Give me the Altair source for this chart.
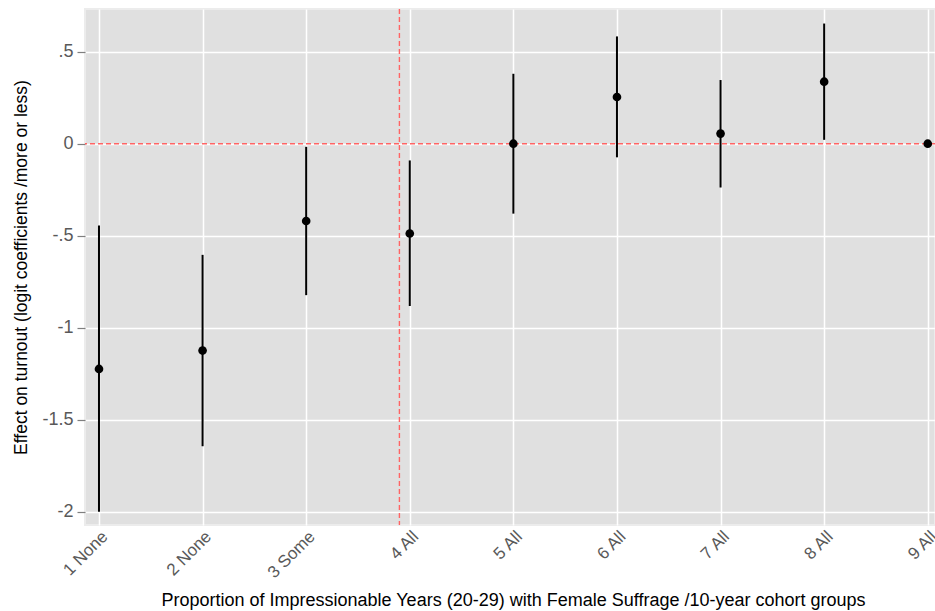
import altair as alt
import pandas as pd

# Data
positions = [1, 2, 3, 4, 5, 6, 7, 8, 9]
labels = ["1 None", "2 None", "3 Some", "4 All", "5 All", "6 All", "7 All", "8 All", "9 All"]
estimates = [-1.224, -1.124, -0.420, -0.488, 0.0, 0.254, 0.055, 0.337, 0.0]
ci_low = [-2.0, -1.644, -0.823, -0.882, -0.380, -0.074, -0.238, 0.021, None]
ci_high = [-0.445, -0.604, -0.017, -0.091, 0.380, 0.583, 0.346, 0.653, None]
ref_x = [3.9]
ref_y = [0.0]

y_ticks = [-2, -1.5, -1, -0.5, 0, 0.5]
y_tick_labels = ["-2", "-1.5", "-1", "-.5", "0", ".5"]

df = pd.DataFrame({"pos": positions, "label": labels, "est": estimates,
                   "lo": ci_low, "hi": ci_high})
df_ci = df.dropna(subset=["lo", "hi"])

label_map = "{" + ",".join(f"'{p}':'{l}'" for p, l in zip(positions, labels)) + "}"
ylab_map = "{" + ",".join(f"'{v}':'{l}'" for v, l in zip(y_ticks, y_tick_labels)) + "}"

x_scale = alt.Scale(domain=[0.865, 9.07], nice=False, zero=False)
y_scale = alt.Scale(domain=[-2.072, 0.732], nice=False, zero=False)

x_axis = alt.Axis(
    values=positions, labelExpr=f"{label_map}[datum.value + '']",
    labelAngle=-45, labelAlign="right", labelBaseline="top", labelPadding=3,
    ticks=False, domain=False, grid=True, gridColor="white", gridWidth=1.5,
    labelFontSize=17, labelColor="#595959", labelOverlap=False, labelBound=False,
    title="Proportion of Impressionable Years (20-29) with Female Suffrage /10-year cohort groups",
    titleFontSize=18, titleFontWeight="normal", titleColor="#000000",
    titleX=428, titleY=80, titleBaseline="alphabetic",
)
y_axis = alt.Axis(
    values=y_ticks, labelExpr=f"{ylab_map}[datum.value + '']",
    ticks=True, tickSize=8, tickColor="#7f7f7f",
    tickWidth=1.2, labelPadding=4, domain=False, grid=True, gridColor="white", gridWidth=1.5,
    labelFontSize=18, labelColor="#595959",
    title="Effect on turnout (logit coefficients /more or less)",
    titleFontSize=17.5, titleFontWeight="normal", titleColor="#000000",
    titleX=-64, titleAngle=-90, titleBaseline="middle",
)

base_x = alt.X("pos:Q", scale=x_scale, axis=x_axis)

hline = alt.Chart(pd.DataFrame({"y": ref_y})).mark_rule(
    color="#ff6464", strokeDash=[5, 3], strokeWidth=1.4
).encode(y=alt.Y("y:Q", scale=y_scale, axis=y_axis))

vline = alt.Chart(pd.DataFrame({"x": ref_x})).mark_rule(
    color="#ff6464", strokeDash=[5, 3], strokeWidth=1.4
).encode(x=alt.X("x:Q", scale=x_scale, axis=x_axis))

bars = alt.Chart(df_ci).mark_rule(color="#000000", strokeWidth=2).encode(
    x=base_x,
    y=alt.Y("lo:Q", scale=y_scale, axis=y_axis),
    y2="hi:Q",
)

points = alt.Chart(df).mark_point(filled=True, color="#000000", size=75, opacity=1).encode(
    x=base_x,
    y=alt.Y("est:Q", scale=y_scale, axis=y_axis),
)

chart = alt.layer(hline, vline, bars, points).properties(
    width=850, height=516,
    autosize=alt.AutoSizeParams(type="none"),
    padding={"left": 85, "top": 9, "right": 0, "bottom": 86},
    background="white",
).configure(
    font="Liberation Sans"
).configure_view(
    fill="#e0e0e0", stroke="#ececec", strokeWidth=2
)

chart.save("out.html", embed_options={"renderer": "svg", "actions": False})
